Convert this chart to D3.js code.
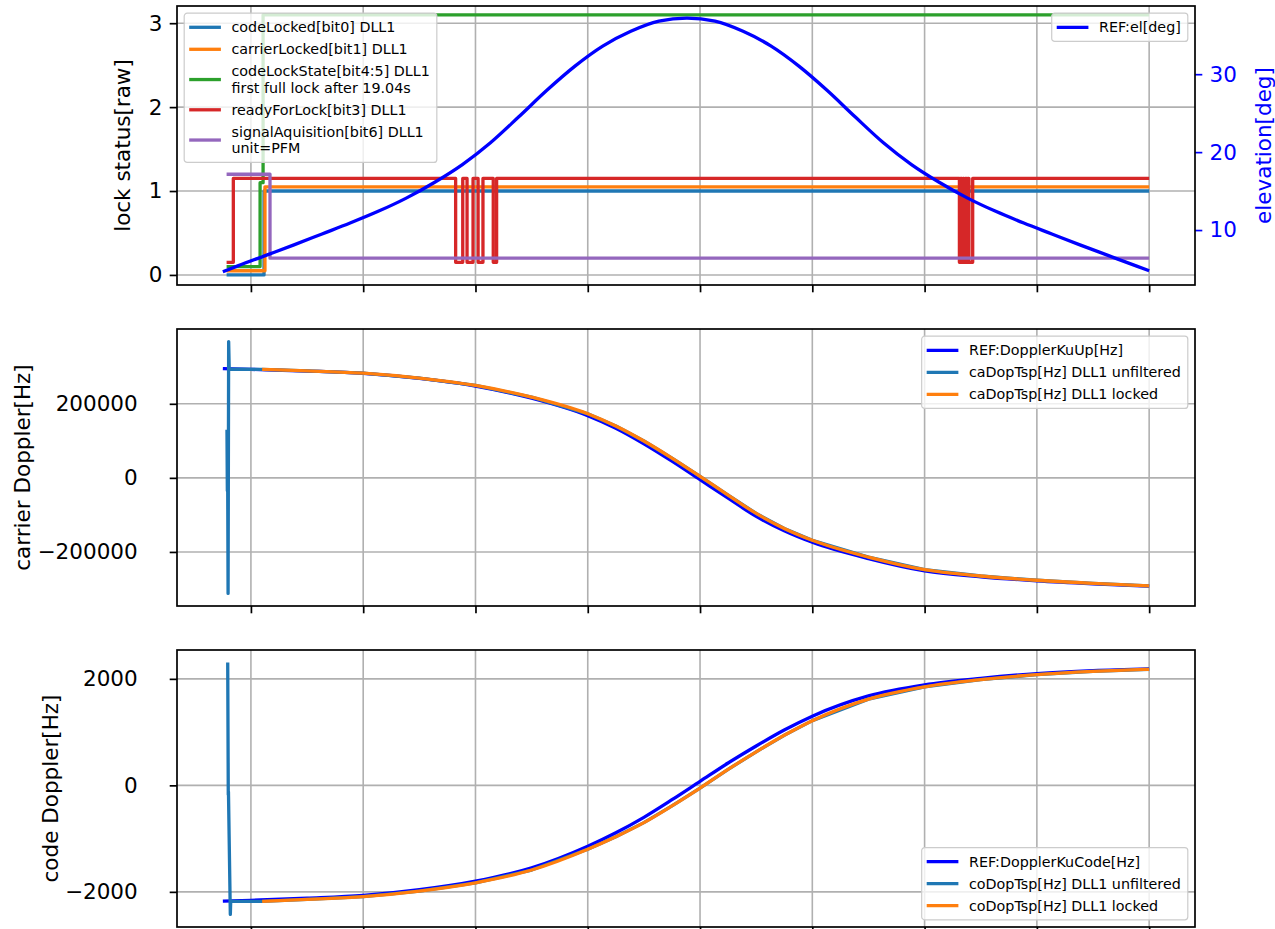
<!DOCTYPE html>
<html>
<head>
<meta charset="utf-8">
<script src="https://cdn.jsdelivr.net/npm/d3@7"></script>
<style>
  body { margin: 0; background: #fff; }
  svg { display: block; font-family: "DejaVu Sans", sans-serif; }
</style>
</head>
<body>
<svg id="chart" width="1275" height="929"></svg>
<script>
// ---- time axis (seconds since start of the pass) ----
const xTicks = [15, 75, 135, 195, 255, 315, 375, 435, 495];
const xDomain = [-24.5, 519.5];

// ---- elevation of the reference satellite ----
const elevTime = [0, 8, 23, 38, 53, 68, 83, 98, 113, 128, 143, 158, 173, 188, 203, 218, 233, 248,
                  263, 278, 293, 308, 323, 338, 353, 368, 383, 398, 413, 428, 443, 458, 473, 488, 495];
const elevDeg  = [4.65, 5.4, 6.75, 8.1, 9.5, 10.9, 12.4, 14.1, 16.1, 18.4, 21.2, 24.5, 27.9, 31.0, 33.6, 35.5, 36.8, 37.2,
                  36.8, 35.5, 33.6, 31.0, 27.9, 24.5, 21.2, 18.4, 16.1, 14.1, 12.4, 10.9, 9.5, 8.1, 6.75, 5.4, 4.78];

// ---- lock status bits (step signals: change times and levels) ----
const codeLockedT   = [2, 22, 495];
const codeLockedV   = [0, 1, 1];
const carrierLockedT = [2, 22.5, 495];
const carrierLockedV = [0.05, 1.05, 1.05];
const codeLockStateT = [2, 19.9, 21.5, 495];
const codeLockStateV = [0.1, 1.1, 3.1, 3.1];
const readyForLockT = [2, 5.6, 124.4, 128.2, 130.5, 133.7, 136.4, 139.0, 144.5, 146.3,
                       393.0, 393.6, 394.2, 394.9, 395.5, 396.1, 396.8, 397.4, 398.0, 398.7, 399.3, 400.7, 495];
const readyForLockV = [0.15, 1.15, 0.15, 1.15, 0.15, 1.15, 0.15, 1.15, 0.15, 1.15,
                       1.15, 0.15, 1.15, 0.15, 1.15, 0.15, 1.15, 0.15, 1.15, 0.15, 0.15, 1.15, 1.15];
const signalAcqT = [2, 25.2, 495];
const signalAcqV = [1.2, 0.2, 0.2];

// ---- Doppler reference (Ku uplink) ----
const dopTime = [0, 15, 45, 75, 105, 135, 165, 195, 210, 225, 240, 255, 270, 285, 300, 315, 345, 375, 405, 435, 465, 495];
const carrierRefHz = [295000, 293000, 288500, 282000, 268500, 248000, 215000, 168000, 134000, 92000, 45000, -5000,
                      -55000, -104000, -143000, -174000, -218000, -251000, -267000, -278000, -286000, -292500];
const codeRefHz = [-2174, -2160, -2120, -2068, -1960, -1800, -1549, -1143, -890, -600, -270, 75,
                   420, 740, 1040, 1300, 1680, 1888, 2010, 2100, 2155, 2188];

// ---- tracked Doppler while locked ----
const lockTime = [21, 45, 75, 105, 135, 165, 195, 210, 225, 240, 255, 270, 285, 300, 315, 345, 375, 405, 435, 465, 495];
const carrierLockedHz = [292800, 289000, 282800, 269500, 249500, 218000, 173000, 140000, 99500, 53500, 4000,
                         -46500, -96000, -136500, -168500, -214000, -248000, -265000, -276500, -285000, -291500];
const codeLockedHz = [-2180, -2140, -2090, -1985, -1830, -1590, -1200, -965, -700, -385, -50,
                      300, 630, 940, 1215, 1620, 1850, 1985, 2080, 2140, 2180];

// ---- unfiltered estimates during acquisition (before lock) ----
const carrierAcqT  = [2.2, 2.4, 2.5, 2.6, 2.8, 3.1, 3.4, 20.9];
const carrierAcqHz = [130000, -35000, 125000, -30000, -312000, 368000, 294000, 292900];
const codeAcqT  = [2.6, 2.9, 3.0, 4.0, 4.2, 20.9];
const codeAcqHz = [2306, -174, -120, -2424, -2174, -2180];

// ---- tick values ----
const lockTicks = [0, 1, 2, 3];
const elevTicks = [10, 20, 30];
const carrierTicks = [-200000, 0, 200000];
const codeTicks = [-2000, 0, 2000];

// ---- colours ----
const C = { blue: "#1f77b4", orange: "#ff7f0e", green: "#2ca02c", red: "#d62728", purple: "#9467bd", ref: "#0000ff" };

const svg = d3.select("#chart");
const FS = 21.5, LFS = 14.3, LW = 3.3;
const left = 177, right = 1195;
const panels = [{ top: 6, bottom: 285 }, { top: 329, bottom: 606 }, { top: 650, bottom: 927 }];

const x = d3.scaleLinear().domain(xDomain).range([left, right]);
const zip = (t, v) => t.map((d, i) => [d, v[i]]);

function frame(p, yScale, ticks, fmt, label, labelX, tickPad) {
  const g = svg.append("g");
  // grid
  g.selectAll(".vg").data(xTicks).join("line")
    .attr("x1", d => x(d)).attr("x2", d => x(d)).attr("y1", p.top).attr("y2", p.bottom)
    .attr("stroke", "#b0b0b0").attr("stroke-width", 1.6);
  g.selectAll(".hg").data(ticks).join("line")
    .attr("x1", left).attr("x2", right).attr("y1", d => yScale(d)).attr("y2", d => yScale(d))
    .attr("stroke", "#b0b0b0").attr("stroke-width", 1.6);
  // x ticks (no labels)
  const xa = svg.append("g").attr("transform", `translate(0,${p.bottom})`)
    .call(d3.axisBottom(x).tickValues(xTicks).tickSize(7.3).tickFormat(""));
  xa.select(".domain").remove();
  xa.selectAll("line").attr("stroke", "#000").attr("stroke-width", 1.7);
  // y axis
  const ya = svg.append("g").attr("transform", `translate(${left},0)`)
    .call(d3.axisLeft(yScale).tickValues(ticks).tickSize(7.3).tickPadding(tickPad).tickFormat(fmt));
  ya.select(".domain").remove();
  ya.selectAll("line").attr("stroke", "#000").attr("stroke-width", 1.7);
  ya.selectAll("text").attr("font-size", FS).attr("fill", "#000").attr("font-family", "DejaVu Sans");
  svg.append("text").attr("transform", `translate(${labelX},${(p.top + p.bottom) / 2}) rotate(-90)`)
    .attr("text-anchor", "middle").attr("dy", "0.35em").attr("font-size", FS).text(label);
  return g;
}

function border(p) {
  svg.append("rect").attr("x", left).attr("y", p.top).attr("width", right - left).attr("height", p.bottom - p.top)
    .attr("fill", "none").attr("stroke", "#000").attr("stroke-width", 1.7);
}

// corner: "upper left" | "upper right" | "lower right"
function legend(entries, corner, p) {
  const lineH = 16.5, gap = 5.5, pad = 5.85, handleX = 5, handleW = 31.7, textX = 47.3;
  const g = svg.append("g");
  const box = g.append("rect");
  const items = [];
  let yy = pad;
  entries.forEach(e => {
    const h = e.lines.length * lineH;
    items.push({ e, cy: yy + h / 2, y0: yy });
    yy += h + gap;
  });
  const H = yy - gap + pad;
  let maxW = 0;
  items.forEach(it => {
    g.append("line").attr("x1", handleX).attr("x2", handleX + handleW).attr("y1", it.cy).attr("y2", it.cy)
      .attr("stroke", it.e.color).attr("stroke-width", LW);
    it.e.lines.forEach((ln, k) => {
      const t = g.append("text").attr("x", textX).attr("y", it.y0 + k * lineH + lineH / 2)
        .attr("dy", "0.35em").attr("font-size", LFS).attr("fill", "#000").text(ln);
      maxW = Math.max(maxW, t.node().getComputedTextLength());
    });
  });
  const W = textX + maxW + 7;
  box.attr("width", W).attr("height", H).attr("rx", 3).attr("ry", 3)
    .attr("fill", "#fff").attr("fill-opacity", 0.8).attr("stroke", "#cccccc").attr("stroke-width", 1.2);
  const off = 7.2;
  const [vert, horiz] = corner.split(" ");
  const gx = horiz === "left" ? left + off : right - off - W;
  const gy = vert === "upper" ? p.top + off : p.bottom - off - H;
  g.attr("transform", `translate(${gx},${gy})`);
}

const stepLine = (xs, ys) => d3.line().x(d => xs(d[0])).y(d => ys(d[1])).curve(d3.curveStepAfter);
const smoothLine = (xs, ys) => d3.line().x(d => xs(d[0])).y(d => ys(d[1])).curve(d3.curveMonotoneX);
const rawLine = (xs, ys) => d3.line().x(d => xs(d[0])).y(d => ys(d[1]));

function path(data, gen, color) {
  svg.append("path").datum(data).attr("d", gen).attr("fill", "none")
    .attr("stroke", color).attr("stroke-width", LW).attr("stroke-linejoin", "round").attr("stroke-linecap", "butt");
}

// ===== panel 1: lock status + elevation =====
const p1 = panels[0];
const y1 = d3.scaleLinear().domain([-0.12, 3.205]).range([p1.bottom, p1.top]);
const y1r = d3.scaleLinear().domain([2.95, 38.75]).range([p1.bottom, p1.top]);
frame(p1, y1, lockTicks, d3.format("d"), "lock status[raw]", 122, 7.3);

path(zip(codeLockedT, codeLockedV), stepLine(x, y1), C.blue);
path(zip(carrierLockedT, carrierLockedV), stepLine(x, y1), C.orange);
path(zip(codeLockStateT, codeLockStateV), stepLine(x, y1), C.green);
path(zip(readyForLockT, readyForLockV), stepLine(x, y1), C.red);
path(zip(signalAcqT, signalAcqV), stepLine(x, y1), C.purple);

legend([
  { color: C.blue, lines: ["codeLocked[bit0] DLL1"] },
  { color: C.orange, lines: ["carrierLocked[bit1] DLL1"] },
  { color: C.green, lines: ["codeLockState[bit4:5] DLL1", "first full lock after 19.04s"] },
  { color: C.red, lines: ["readyForLock[bit3] DLL1"] },
  { color: C.purple, lines: ["signalAquisition[bit6] DLL1", "unit=PFM"] }
], "upper left", p1);

path(zip(elevTime, elevDeg), smoothLine(x, y1r), C.ref);

const ra = svg.append("g").attr("transform", `translate(${right},0)`)
  .call(d3.axisRight(y1r).tickValues(elevTicks).tickSize(7.3).tickPadding(7.3).tickFormat(d3.format("d")));
ra.select(".domain").remove();
ra.selectAll("line").attr("stroke", C.ref).attr("stroke-width", 1.7);
ra.selectAll("text").attr("font-size", FS).attr("fill", C.ref).attr("font-family", "DejaVu Sans");
svg.append("text").attr("transform", `translate(1263,${(p1.top + p1.bottom) / 2}) rotate(-90)`)
  .attr("text-anchor", "middle").attr("dy", "0.35em").attr("font-size", FS).attr("fill", C.ref).text("elevation[deg]");

legend([{ color: C.ref, lines: ["REF:el[deg]"] }], "upper right", p1);
border(p1);

// ===== panel 2: carrier Doppler =====
const p2 = panels[1];
const y2 = d3.scaleLinear().domain([-346000, 402000]).range([p2.bottom, p2.top]);
frame(p2, y2, carrierTicks, d3.format("d"), "carrier Doppler[Hz]", 22, 32);
path(zip(dopTime, carrierRefHz), smoothLine(x, y2), C.ref);
path(zip(carrierAcqT, carrierAcqHz).concat(zip(lockTime, carrierLockedHz).slice(1)), rawLine(x, y2), C.blue);
path(zip(lockTime, carrierLockedHz), smoothLine(x, y2), C.orange);
legend([
  { color: C.ref, lines: ["REF:DopplerKuUp[Hz]"] },
  { color: C.blue, lines: ["caDopTsp[Hz] DLL1 unfiltered"] },
  { color: C.orange, lines: ["caDopTsp[Hz] DLL1 locked"] }
], "upper right", p2);
border(p2);

// ===== panel 3: code Doppler =====
const p3 = panels[2];
const y3 = d3.scaleLinear().domain([-2660, 2542]).range([p3.bottom, p3.top]);
frame(p3, y3, codeTicks, d3.format("d"), "code Doppler[Hz]", 50, 32);
path(zip(dopTime, codeRefHz), smoothLine(x, y3), C.ref);
path(zip(codeAcqT, codeAcqHz).concat(zip(lockTime, codeLockedHz).slice(1)), rawLine(x, y3), C.blue);
path(zip(lockTime, codeLockedHz), smoothLine(x, y3), C.orange);
legend([
  { color: C.ref, lines: ["REF:DopplerKuCode[Hz]"] },
  { color: C.blue, lines: ["coDopTsp[Hz] DLL1 unfiltered"] },
  { color: C.orange, lines: ["coDopTsp[Hz] DLL1 locked"] }
], "lower right", p3);
border(p3);
</script>
</body>
</html>
